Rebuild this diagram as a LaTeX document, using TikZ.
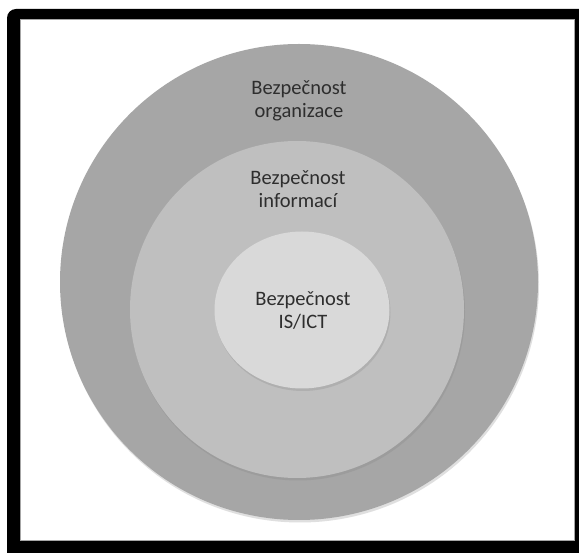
\documentclass[tikz,border=0pt]{standalone}
\usepackage{fontspec}
\setmainfont{Carlito}
\usetikzlibrary{shapes.geometric,shadows}
\definecolor{ringA}{HTML}{A6A6A6}
\definecolor{ringB}{HTML}{BFBFBF}
\definecolor{ringC}{HTML}{D9D9D9}
\definecolor{txt}{HTML}{2E2E2E}
\tikzset{
  ring/.style={ellipse, inner sep=0pt, draw=none, drop shadow={shadow xshift=1pt, shadow yshift=-2.5pt, opacity=0.25}},
  lbl/.style={align=center, text=txt, font=\fontsize{20.5}{23}\selectfont, inner sep=0pt}
}
\begin{document}
\begin{tikzpicture}[x=1pt,y=-1pt]
\useasboundingbox (0,0) rectangle (579,553);
\begin{scope}
\clip (0,0) rectangle (579,553);
\fill[black, rounded corners=9pt] (7,9) rectangle (600,575);
\end{scope}
\fill[white, draw=black!35, line width=0.6pt] (20,19) rectangle (574,540);
\node[ring, fill=ringA, minimum width=478pt, minimum height=476pt] (outer) at (299,282) {};
\node[ring, fill=ringB, minimum width=334pt, minimum height=337pt] (middle) at (297,309.5) {};
\node[ring, fill=ringC, minimum width=175pt, minimum height=157pt] (inner) at (302,310) {};
\node[lbl] (torg) at (299,101) {Bezpečnost\\organizace};
\node[lbl] (tinf) at (298,189) {Bezpečnost\\informací};
\node[lbl] (tict) at (303,311) {Bezpečnost\\IS/ICT};
\end{tikzpicture}
\end{document}
